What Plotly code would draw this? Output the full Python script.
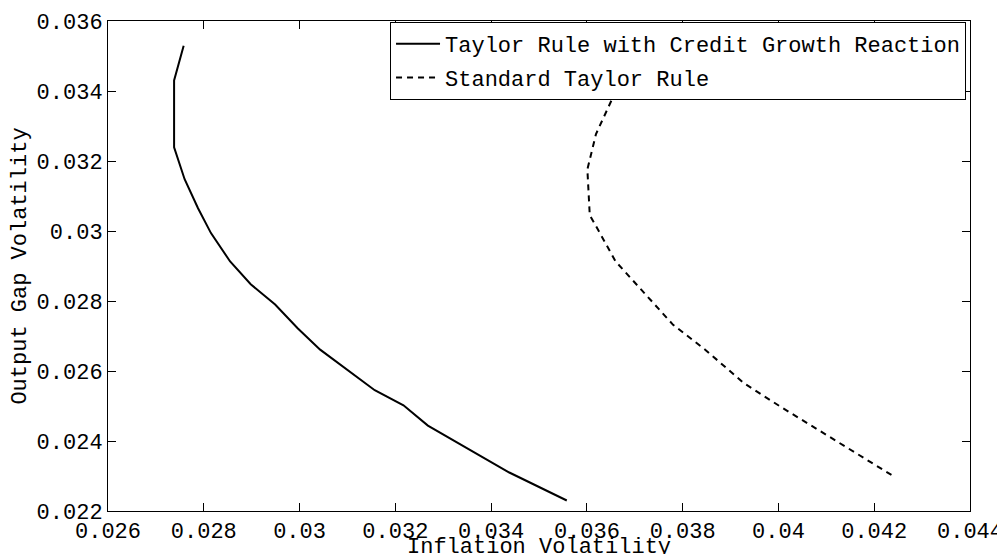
import plotly.graph_objects as go

# solid curve: Taylor rule with credit growth reaction
credit_infl = [0.03558, 0.03438, 0.03268, 0.03217, 0.03157, 0.03043, 0.02996,
               0.02949, 0.02898, 0.02855, 0.02815, 0.02788, 0.02760, 0.02738,
               0.02738, 0.02758]
credit_gap = [0.02230, 0.02310, 0.02444, 0.02502, 0.02545, 0.02661, 0.02722,
              0.02790, 0.02848, 0.02913, 0.02994, 0.03065, 0.03148, 0.03239,
              0.03430, 0.03529]

# dashed curve: standard Taylor rule
std_infl = [0.04236, 0.04116, 0.04002, 0.03928, 0.03847, 0.03780, 0.03720,
            0.03660, 0.03619, 0.03606, 0.03601, 0.03619, 0.03657, 0.03700]
std_gap = [0.02303, 0.02404, 0.02500, 0.02565, 0.02661, 0.02732, 0.02823,
           0.02913, 0.03014, 0.03045, 0.03176, 0.03277, 0.03390, 0.03500]

x_ticks = [0.026, 0.028, 0.03, 0.032, 0.034, 0.036, 0.038, 0.04, 0.042, 0.044]
x_labels = ["0.026", "0.028", "0.03", "0.032", "0.034", "0.036", "0.038", "0.04", "0.042", "0.044"]
y_ticks = [0.022, 0.024, 0.026, 0.028, 0.03, 0.032, 0.034, 0.036]
y_labels = ["0.022", "0.024", "0.026", "0.028", "0.03", "0.032", "0.034", "0.036"]

FONT = "Liberation Mono, Courier New, monospace"

fig = go.Figure()
fig.add_trace(go.Scatter(x=credit_infl, y=credit_gap, mode="lines",
                         line=dict(color="black", width=2), legendgroup="a",
                         name="Taylor Rule with Credit Growth Reaction"))
fig.add_trace(go.Scatter(x=std_infl, y=std_gap, mode="lines",
                         line=dict(color="black", width=2, dash="6px,5px"),
                         legendgroup="b", name="Standard Taylor Rule"))

axis_common = dict(showgrid=False, zeroline=False, showline=True, linecolor="black",
                   linewidth=1, mirror="ticks", ticks="inside", ticklen=8,
                   tickcolor="black", tickfont=dict(family=FONT, size=22, color="black"))

# the page body adds an 8px offset, so the figure is 8px smaller on each side
fig.update_layout(
    width=997, height=546,
    margin=dict(l=100, r=35, t=13, b=43),
    paper_bgcolor="white", plot_bgcolor="white",
    font=dict(family=FONT, size=22, color="black"),
    xaxis=dict(range=[0.026, 0.044], tickvals=x_ticks, ticktext=x_labels,
               automargin=False, **axis_common),
    yaxis=dict(range=[0.022, 0.036], tickvals=y_ticks, ticktext=y_labels,
               title=dict(text="Output Gap Volatility", standoff=8,
                          font=dict(family=FONT, size=22)),
               automargin=False, **axis_common),
    legend=dict(x=0.9954, y=0.998, xanchor="right", yanchor="top",
                bgcolor="white", bordercolor="black", borderwidth=1,
                font=dict(family=FONT, size=22), itemwidth=44,
                tracegroupgap=2),
    showlegend=True,
)

# x-axis title sits just under the tick labels, partly cut by the page edge
fig.add_annotation(text="Inflation Volatility", xref="paper", yref="paper",
                   x=0.5, y=0, xanchor="center", yanchor="top", yshift=-22,
                   showarrow=False, font=dict(family=FONT, size=22, color="black"))

fig.write_html("out.html")
